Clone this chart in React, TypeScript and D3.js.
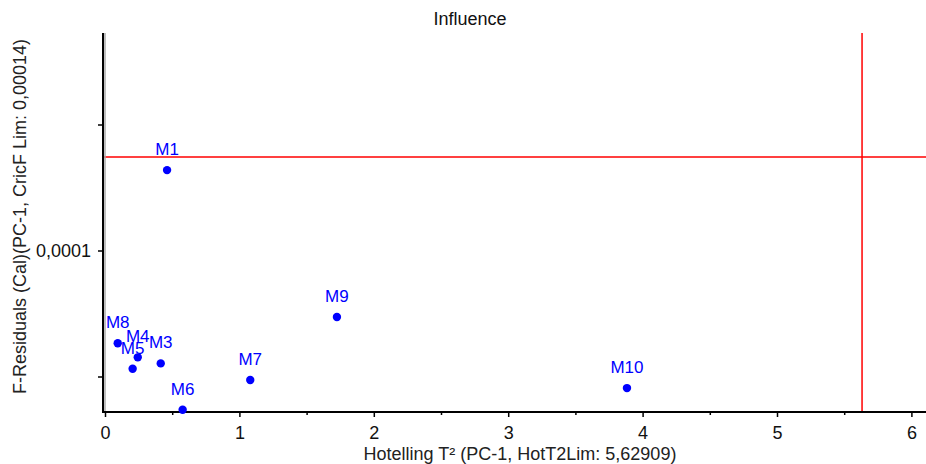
import React from "react";
import * as d3 from "d3";

// Sample names and their influence coordinates
const sampleNames = ["M1", "M3", "M4", "M5", "M6", "M7", "M8", "M9", "M10"];
const hotellingT2 = [0.458, 0.411, 0.24, 0.202, 0.574, 1.077, 0.091, 1.722, 3.88];
const fResiduals = [0.0001321, 0.0000554, 0.0000578, 0.0000533, 0.000037, 0.0000488, 0.0000634, 0.0000738, 0.0000456];

// Critical limits
const hotT2Limit = 5.62909;
const fResLimit = 0.0001373;

// Axis ticks
const xMajorTicks = [0, 1, 2, 3, 4, 5, 6];
const xMinorTicks = [0.5, 1.5, 2.5, 3.5, 4.5, 5.5];
const yTicks = [0.00005, 0.0001, 0.00015];
const yTickLabels = ["", "0,0001", ""];

const W = 926;
const H = 464;
const left = 103;
const right = 926;
const top = 33;
const bottom = 412;

const FONT = "'Liberation Sans', Arial, sans-serif";

export default function App() {
  const x = d3.scaleLinear().domain([0, (right - 105.5) / 134.4]).range([105.5, right]);
  const y = d3
    .scaleLinear()
    .domain([0.0001 - ((bottom - 251) / 126) * 0.00005, 0.0001 + ((251 - top) / 126) * 0.00005])
    .range([bottom, top]);

  return (
    <svg
      width={W}
      height={H}
      style={{ position: "absolute", left: 0, top: 0, background: "#fff" }}
      fontFamily={FONT}
    >
      <text x={470} y={25} textAnchor="middle" fontSize={18} fill="#111">
        Influence
      </text>

      {/* limit lines */}
      <line x1={left} x2={right} y1={y(fResLimit)} y2={y(fResLimit)} stroke="#ff0000" strokeWidth={1.5} />
      <line x1={x(hotT2Limit)} x2={x(hotT2Limit)} y1={top} y2={bottom} stroke="#ff0000" strokeWidth={1.5} />

      {/* y axis */}
      <line x1={left + 2} x2={left + 2} y1={top} y2={bottom} stroke="#aaa" strokeWidth={1.5} />
      <line x1={left} x2={left} y1={top} y2={bottom + 1} stroke="#000" strokeWidth={2} />
      {yTicks.map((t, i) => (
        <g key={"yt" + i}>
          <line x1={left - 5} x2={left} y1={y(t)} y2={y(t)} stroke="#000" strokeWidth={1.5} />
          {yTickLabels[i] && (
            <text x={left - 12} y={y(t)} dy="0.35em" textAnchor="end" fontSize={18} fill="#111">
              {yTickLabels[i]}
            </text>
          )}
        </g>
      ))}
      <text
        transform={`translate(20, ${(top + bottom) / 2 - 6}) rotate(-90)`}
        textAnchor="middle"
        dy="0.35em"
        fontSize={18}
        fill="#222"
      >
        F-Residuals (Cal)(PC-1, CricF Lim: 0,00014)
      </text>

      {/* x axis */}
      <line x1={left - 1} x2={right} y1={bottom} y2={bottom} stroke="#000" strokeWidth={2} />
      {xMajorTicks.map((t) => (
        <g key={"xt" + t}>
          <line x1={x(t)} x2={x(t)} y1={bottom} y2={bottom + 5} stroke="#000" strokeWidth={1.5} />
          <text x={x(t)} y={bottom + 27} textAnchor="middle" fontSize={18} fill="#111">
            {t}
          </text>
        </g>
      ))}
      {xMinorTicks.map((t) => (
        <line key={"xm" + t} x1={x(t)} x2={x(t)} y1={bottom} y2={bottom + 3} stroke="#000" strokeWidth={1.5} />
      ))}
      <text x={520} y={460} textAnchor="middle" fontSize={18} fill="#222">
        Hotelling T² (PC-1, HotT2Lim: 5,62909)
      </text>

      {/* samples */}
      {sampleNames.map((name, i) => (
        <g key={name}>
          <circle cx={x(hotellingT2[i])} cy={y(fResiduals[i])} r={4.2} fill="#0000ff" />
          <text
            x={x(hotellingT2[i])}
            y={y(fResiduals[i]) - 15}
            textAnchor="middle"
            fontSize={17}
            fill="#0000ff"
          >
            {name}
          </text>
        </g>
      ))}
    </svg>
  );
}
